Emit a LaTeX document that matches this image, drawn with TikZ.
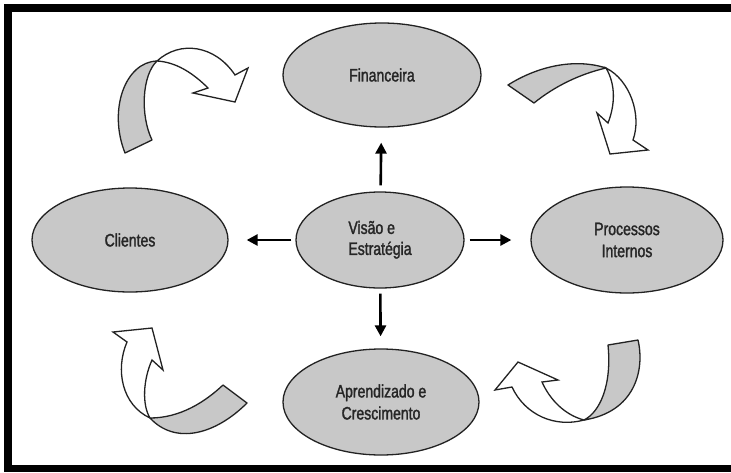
\documentclass[tikz,border=0pt]{standalone}
\usepackage{fontspec}
\setmainfont{Liberation Sans}[FakeStretch=0.78,FakeBold=1.6]
\usetikzlibrary{shapes.geometric,arrows.meta}
\definecolor{bandgray}{HTML}{C8C8C8}
\definecolor{inkdark}{HTML}{222222}
\definecolor{textdark}{HTML}{262626}
\tikzset{
  perspective/.style={ellipse, draw=inkdark, line width=1.3pt, fill=bandgray,
    inner sep=0pt, text=textdark, font=\fontsize{18}{22}\selectfont, align=center},
  conn/.style={line width=2.6pt, draw=black,
    -{Triangle[length=11pt,width=11pt]}},
  band/.style={fill=bandgray, draw=inkdark, line width=1.3pt, line join=round},
  turnhead/.style={fill=white, draw=inkdark, line width=1.3pt, line join=miter},
}
\begin{document}
\begin{tikzpicture}[x=1pt,y=-1pt]
\useasboundingbox (0,0) rectangle (731,472);
\fill[white] (0,0) rectangle (731,472);

% frame bars
\fill[black] (4,4) rectangle (12,472);
\fill[black] (4,4) rectangle (731,12);
\fill[black] (4,465) rectangle (731,472);

% perspectives
\node[perspective, minimum width=198pt, minimum height=104pt] (fin) at (382,75) {Financeira};
\node[perspective, minimum width=196pt, minimum height=104pt] (cli) at (130,240) {Clientes};
\node[perspective, minimum width=168pt, minimum height=96pt] (vis) at (380,240) {\begin{tabular}{@{}l@{}}Visão e\\[-1pt] Estratégia\end{tabular}};
\node[perspective, minimum width=192pt, minimum height=106pt] (pro) at (627,240) {Processos\\ Internos};
\node[perspective, minimum width=196pt, minimum height=106pt] (apr) at (381,402) {Aprendizado e\\ Crescimento};

% straight connectors from the centre
\draw[conn, shorten <=6pt, shorten >=15pt] (vis) -- (fin);
\draw[conn, shorten <=4pt, shorten >=18pt] (vis) -- (cli);
\draw[conn, shorten <=5pt, shorten >=19pt] (vis) -- (pro);
\draw[conn, shorten <=5pt, shorten >=12pt] (vis) -- (apr);

% twisted ribbon arrow, top left
\coordinate (tA) at (157,61);
\draw[band] (125,153) -- (152,140) .. controls (140,115) and (142,75) .. (tA)
  .. controls (125,62) and (108,110) .. (125,153) -- cycle;
\draw[turnhead] (tA) .. controls (180,40) and (215,45) .. (235,75)
  -- (248,68) -- (235,102) -- (193,93) -- (208,88)
  .. controls (192,72) and (175,62) .. (tA) -- cycle;

% twisted ribbon arrow, top right
\coordinate (tB) at (606,68);
\draw[band] (508,85) .. controls (538,66) and (575,58) .. (tB)
  .. controls (580,74) and (555,86) .. (534,103) -- cycle;
\draw[turnhead] (tB) .. controls (630,80) and (642,115) .. (633,140)
  -- (648,150) -- (610,154) -- (597,113) -- (608,123)
  .. controls (615,105) and (616,85) .. (tB) -- cycle;

% twisted ribbon arrow, bottom left
\coordinate (tC) at (150,418);
\draw[band] (223,385) -- (247,403) .. controls (215,435) and (175,445) .. (tC)
  .. controls (180,418) and (205,402) .. (223,385) -- cycle;
\draw[turnhead] (tC) .. controls (122,405) and (115,370) .. (127,342)
  -- (113,332) -- (152,328) -- (163,370) -- (152,360)
  .. controls (143,380) and (142,405) .. (tC) -- cycle;

% twisted ribbon arrow, bottom right
\coordinate (tD) at (584,420);
\draw[band] (608,345) -- (638,340) .. controls (645,370) and (635,412) .. (tD)
  .. controls (600,412) and (612,385) .. (608,345) -- cycle;
\draw[turnhead] (tD) .. controls (555,428) and (525,415) .. (512,387)
  -- (495,390) -- (518,362) -- (558,380) -- (542,382)
  .. controls (550,400) and (565,415) .. (tD) -- cycle;
\end{tikzpicture}
\end{document}
